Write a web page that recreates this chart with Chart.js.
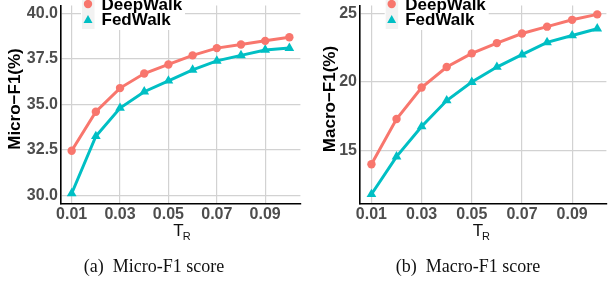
<!DOCTYPE html>
<html>
<head>
<meta charset="utf-8">
<script src="https://cdn.jsdelivr.net/npm/chart.js@4.4.1/dist/chart.umd.min.js"></script>
<style>
  html, body { margin: 0; padding: 0; background: #fff; }
  #wrap { position: relative; width: 612px; height: 285px; overflow: hidden; background: #fff; }
  .pane { position: absolute; top: 0; width: 306px; height: 285px; }
  .cap { position: absolute; top: 256px; font-family: "Liberation Serif", "DejaVu Serif", serif;
         font-size: 18px; line-height: 20px; color: #111; white-space: pre; transform: translateX(-50%); }
</style>
</head>
<body>
<div id="wrap">
  <div class="pane" style="left:0"><canvas id="c1" width="306" height="285"></canvas></div>
  <div class="pane" style="left:306px"><canvas id="c2" width="306" height="285"></canvas></div>
  <div class="cap" style="left:154px">(a)  Micro-F1 score</div>
  <div class="cap" style="left:468px">(b)  Macro-F1 score</div>
</div>
<script>
// ---- data ----
const trValues = [0.01, 0.02, 0.03, 0.04, 0.05, 0.06, 0.07, 0.08, 0.09, 0.10];
const microDeepWalk = [32.45, 34.6, 35.9, 36.7, 37.2, 37.7, 38.1, 38.3, 38.5, 38.7];
const microFedWalk  = [30.1, 33.25, 34.8, 35.7, 36.3, 36.9, 37.4, 37.7, 38.0, 38.1];
const macroDeepWalk = [14.0, 17.3, 19.6, 21.1, 22.1, 22.85, 23.55, 24.05, 24.55, 24.95];
const macroFedWalk  = [11.8, 14.55, 16.75, 18.65, 20.0, 21.1, 22.0, 22.9, 23.4, 23.9];
const xTicks = [0.01, 0.03, 0.05, 0.07, 0.09];
const microTicks = [30.0, 32.5, 35.0, 37.5, 40.0];
const macroTicks = [15, 20, 25];
const seriesNames = ['DeepWalk', 'FedWalk'];
const yTitles = ['Micro\u2212F1(%)', 'Macro\u2212F1(%)'];

const RED = '#F8766D', CYAN = '#00BFC4';
const SANS = '"Liberation Sans", Arial, sans-serif';

const deco = {
  id: 'deco',
  beforeDatasetsDraw(chart, args, o) {
    const ctx = chart.ctx;
    ctx.save();
    // legend background
    ctx.fillStyle = '#ffffff';
    ctx.fillRect(o.legX - 7, -2, o.legW, 32);
    // keys
    ctx.fillStyle = '#f2f2f2';
    ctx.fillRect(o.legX - 6, -2, 12.5, 31);
    // circle marker
    ctx.fillStyle = RED;
    ctx.beginPath(); ctx.arc(o.legX, 4, 4.2, 0, Math.PI * 2); ctx.fill();
    // triangle marker
    ctx.fillStyle = CYAN;
    ctx.beginPath();
    ctx.moveTo(o.legX, 15); ctx.lineTo(o.legX + 4.5, 23); ctx.lineTo(o.legX - 4.5, 23);
    ctx.closePath(); ctx.fill();
    ctx.fillStyle = '#000';
    ctx.font = 'bold 17px ' + SANS;
    ctx.textAlign = 'left'; ctx.textBaseline = 'alphabetic';
    ctx.fillText(seriesNames[0], o.legX + 13.5, 9.5);
    ctx.fillText(seriesNames[1], o.legX + 13.5, 25.2);
    ctx.restore();
  },
  afterDraw(chart, args, o) {
    const ctx = chart.ctx;
    ctx.save();
    // y title
    ctx.translate(o.yTitleX, 99);
    ctx.rotate(-Math.PI / 2);
    ctx.font = 'bold 17px ' + SANS;
    ctx.fillStyle = '#000';
    ctx.textAlign = 'center'; ctx.textBaseline = 'middle';
    ctx.fillText(o.yTitle, 0, 0);
    ctx.restore();
    // x title T_R
    ctx.save();
    ctx.fillStyle = '#111';
    ctx.textAlign = 'left'; ctx.textBaseline = 'alphabetic';
    ctx.font = '17px ' + SANS;
    ctx.fillText('T', o.xTitleX, 235.5);
    ctx.font = '11px ' + SANS;
    ctx.fillText('R', o.xTitleX + 9.4, 239.5);
    ctx.restore();
  }
};

function makeChart(id, dw, fw, yt, yMin, yMax, xMin, xMax, yWidth, padRight, fmt, deco_o) {
  const mk = (arr) => trValues.map((x, i) => ({ x: x, y: arr[i] }));
  return new Chart(document.getElementById(id), {
    type: 'line',
    data: {
      datasets: [
        { label: seriesNames[0], data: mk(dw), borderColor: RED, backgroundColor: RED,
          borderWidth: 3, pointStyle: 'circle', pointRadius: 4.2, pointBorderWidth: 0,
          pointBackgroundColor: RED, clip: false, tension: 0 },
        { label: seriesNames[1], data: mk(fw), borderColor: CYAN, backgroundColor: CYAN,
          borderWidth: 3, pointStyle: 'triangle', pointRadius: 5.6, pointBorderWidth: 0,
          pointBackgroundColor: CYAN, clip: false, tension: 0 }
      ]
    },
    options: {
      responsive: false, animation: false, devicePixelRatio: 1,
      layout: { padding: { left: 0, right: padRight, top: 0, bottom: 0 } },
      plugins: { legend: { display: false }, tooltip: { enabled: false }, deco: deco_o },
      scales: {
        x: {
          type: 'linear', min: xMin, max: xMax,
          afterBuildTicks: s => { s.ticks = xTicks.map(v => ({ value: v })); },
          afterFit: s => { s.height = 81; s.paddingLeft = 0; s.paddingRight = 0; },
          ticks: { callback: v => Number(v).toFixed(2), color: '#4d4d4d', padding: 1,
                   font: { family: SANS, size: 16, weight: 'bold' }, maxRotation: 0, autoSkip: false },
          grid: { color: '#d2d2d2', lineWidth: 1.2, drawTicks: false },
          border: { display: true, color: '#000', width: 1.6 }
        },
        y: {
          min: yMin, max: yMax,
          afterBuildTicks: s => { s.ticks = yt.map(v => ({ value: v })); },
          afterFit: s => { s.width = yWidth; s.paddingTop = 0; s.paddingBottom = 0; },
          ticks: { callback: fmt, color: '#4d4d4d', padding: 3,
                   font: { family: SANS, size: 16, weight: 'bold' }, autoSkip: false },
          grid: { color: '#d2d2d2', lineWidth: 1.2, drawTicks: false },
          border: { display: true, color: '#000', width: 1.6 }
        }
      }
    },
    plugins: [deco]
  });
}

makeChart('c1', microDeepWalk, microFedWalk, microTicks, 29.52, 40.44, 0.00559, 0.10456, 61, 5,
  v => Number(v).toFixed(1),
  { legX: 88, legW: 104, yTitle: yTitles[0], yTitleX: 15, xTitleX: 173.3 });
makeChart('c2', macroDeepWalk, macroFedWalk, macroTicks, 11.09, 25.59, 0.00544, 0.10365, 54, 0,
  v => String(Math.round(v)),
  { legX: 85.7, legW: 104, yTitle: yTitles[1], yTitleX: 24, xTitleX: 166.7 });
</script>
</body>
</html>
